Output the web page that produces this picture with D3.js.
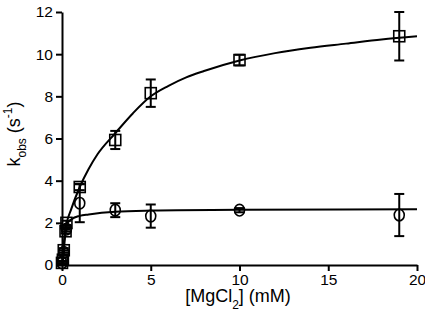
<!DOCTYPE html>
<html lang="en">
<head>
<meta charset="UTF-8" />
<title>kobs vs MgCl2</title>
<script src="https://cdn.jsdelivr.net/npm/d3@7"></script>
<style>
  body { margin: 0; background: #fff; }
  text { font-family: "Liberation Sans", Arial, sans-serif; fill: #000; }
</style>
</head>
<body>
<svg width="425" height="318"></svg>
<script>
  // measured points (squares)
  const sqX = [0, 0.05, 0.1, 0.2, 0.25, 1, 3, 5, 10, 19];
  const sqY = [0.1, 0.25, 0.7, 1.6, 2.0, 3.7, 5.93, 8.15, 9.72, 10.85];
  const sqErr = [0.1, 0.1, 0.1, 0.1, 0.1, 0.15, 0.43, 0.65, 0.25, 1.15];

  // measured points (circles)
  const ciX = [0, 0.1, 0.25, 1, 3, 5, 10, 19];
  const ciY = [0.1, 0.6, 1.7, 2.93, 2.6, 2.32, 2.6, 2.37];
  const ciErr = [0.05, 0.1, 0.1, 0.9, 0.33, 0.55, 0.1, 1.0];

  // fitted curves
  const fitSqX = [0, 0.05, 0.1, 0.25, 0.5, 1, 1.5, 2, 3, 4, 5, 6, 7, 8, 10, 12, 14, 16, 18, 20];
  const fitSqY = [0, 0.3, 0.7, 1.9, 2.6, 3.7, 4.55, 5.25, 6.25, 7.2, 8.0, 8.5, 8.9, 9.2, 9.7, 10.05, 10.3, 10.5, 10.7, 10.85];
  const fitCiX = [0, 0.05, 0.1, 0.25, 0.5, 1, 1.5, 3, 5, 10, 20];
  const fitCiY = [0, 0.5, 1.0, 1.9, 2.15, 2.33, 2.4, 2.53, 2.58, 2.62, 2.64];

  const xTicks = [0, 5, 10, 15, 20];
  const yTicks = [0, 2, 4, 6, 8, 10, 12];

  const svg = d3.select("svg");
  const x = d3.scaleLinear().domain([0, 20]).range([62, 417]);
  const y = d3.scaleLinear().domain([0, 12]).range([265, 12]);

  const xAxis = svg.append("g")
    .attr("transform", "translate(0,265)")
    .call(d3.axisBottom(x).tickValues(xTicks).tickSize(6).tickPadding(3).tickSizeOuter(0));
  const yAxis = svg.append("g")
    .attr("transform", "translate(62,0)")
    .call(d3.axisLeft(y).tickValues(yTicks).tickSize(6).tickPadding(3).tickSizeOuter(0));

  [xAxis, yAxis].forEach(g => {
    g.select(".domain").attr("stroke", "#000").attr("stroke-width", 2);
    g.selectAll(".tick line").attr("stroke", "#000").attr("stroke-width", 2);
    g.selectAll(".tick text").style("font-size", "15.5px").style("font-family", "Liberation Sans, Arial, sans-serif");
  });

  const line = d3.line().x(d => x(d[0])).y(d => y(d[1])).curve(d3.curveMonotoneX);
  svg.append("path").datum(d3.zip(fitSqX, fitSqY))
    .attr("d", line).attr("fill", "none").attr("stroke", "#000").attr("stroke-width", 2);
  svg.append("path").datum(d3.zip(fitCiX, fitCiY))
    .attr("d", line).attr("fill", "none").attr("stroke", "#000").attr("stroke-width", 2);

  function errorBars(xs, ys, es) {
    const g = svg.append("g").attr("stroke", "#000").attr("stroke-width", 2);
    xs.forEach((xv, i) => {
      const cx = x(xv), top = y(ys[i] + es[i]), bot = y(ys[i] - es[i]);
      g.append("line").attr("x1", cx).attr("x2", cx).attr("y1", top).attr("y2", bot);
      g.append("line").attr("x1", cx - 5).attr("x2", cx + 5).attr("y1", top).attr("y2", top);
      g.append("line").attr("x1", cx - 5).attr("x2", cx + 5).attr("y1", bot).attr("y2", bot);
    });
  }
  errorBars(sqX, sqY, sqErr);
  errorBars(ciX, ciY, ciErr);

  svg.append("g").selectAll("rect").data(d3.zip(sqX, sqY)).join("rect")
    .attr("x", d => x(d[0]) - 5.5).attr("y", d => y(d[1]) - 5.5)
    .attr("width", 11).attr("height", 11)
    .attr("fill", "none").attr("stroke", "#000").attr("stroke-width", 1.6);

  svg.append("g").selectAll("ellipse").data(d3.zip(ciX, ciY)).join("ellipse")
    .attr("cx", d => x(d[0])).attr("cy", d => y(d[1]))
    .attr("rx", 5).attr("ry", 5.8)
    .attr("fill", "none").attr("stroke", "#000").attr("stroke-width", 1.6);

  // axis titles
  const xt = svg.append("text").attr("x", 238).attr("y", 302)
    .attr("text-anchor", "middle").style("font-size", "18px");
  xt.append("tspan").text("[MgCl");
  xt.append("tspan").attr("dy", 7).style("font-size", "12px").text("2");
  xt.append("tspan").attr("dy", -7).text("] (mM)");

  const yt = svg.append("text").attr("transform", "translate(20,134) rotate(-90)")
    .attr("text-anchor", "middle").style("font-size", "18px");
  yt.append("tspan").text("k");
  yt.append("tspan").attr("dy", 6).style("font-size", "12px").text("obs");
  yt.append("tspan").attr("dy", -6).text(" (s");
  yt.append("tspan").attr("dy", -8).style("font-size", "12px").text("-1");
  yt.append("tspan").attr("dy", 8).text(")");
</script>
</body>
</html>
